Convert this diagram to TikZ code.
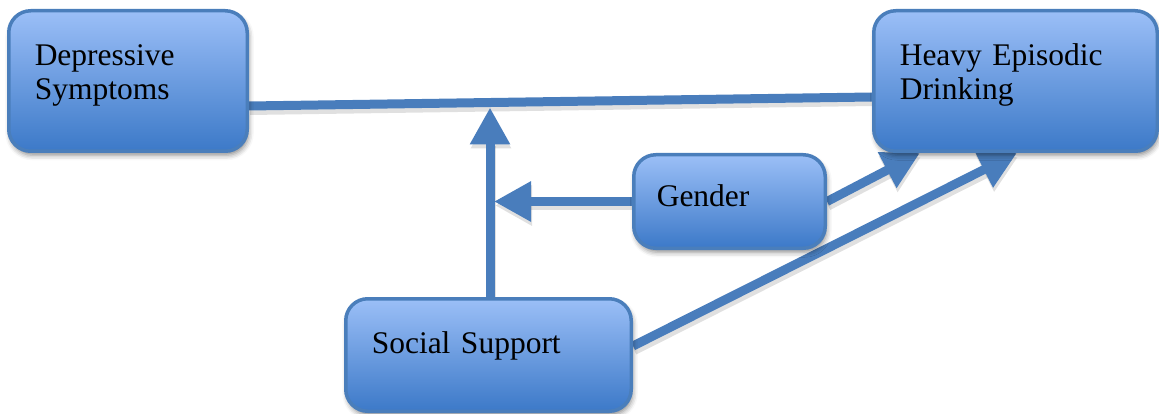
\documentclass[tikz,border=0pt]{standalone}
\usepackage{fontspec}
\setmainfont{Liberation Serif}
\usetikzlibrary{arrows.meta,calc,shadows.blur,backgrounds}
\definecolor{boxtop}{RGB}{155,191,247}
\definecolor{boxbot}{RGB}{60,121,200}
\definecolor{bordercol}{RGB}{74,126,187}
\definecolor{linecol}{RGB}{73,125,188}
\tikzset{
  box/.style={draw=bordercol, line width=3.5pt, rounded corners=22pt,
    top color=boxtop, bottom color=boxbot, align=left, inner ysep=0pt,
    font=\fontsize{31.5}{34}\selectfont, text=black,
    blur shadow={shadow xshift=1.5pt, shadow yshift=-4pt, shadow blur radius=5pt, shadow opacity=45}},
  conn/.style={draw=linecol, line width=9pt,
    preaction={draw=black, opacity=0.12, line width=10pt, transform canvas={xshift=1pt,yshift=-4pt}}},
  head/.style={-{Triangle[length=37pt,width=38pt]}}
}
\begin{document}
\begin{tikzpicture}[x=1pt,y=-1pt]
\useasboundingbox (0,0) rectangle (1159,414);
\node[box, minimum width=238.5pt, minimum height=140.5pt, inner xsep=26pt,
      text width=186.5pt, text depth=51.5pt] (dep) at (128,81) {Depressive\\Symptoms};
\node[box, minimum width=283.5pt, minimum height=140.5pt, inner xsep=26pt,
      text width=231.5pt, text depth=53.5pt] (heavy) at (1015.5,81) {Heavy Episodic\\Drinking};
\node[box, minimum width=191.5pt, minimum height=93.5pt, inner xsep=23pt,
      text width=145.5pt, text depth=12.5pt] (gen) at (729.5,201.5) {Gender};
\node[box, minimum width=285.5pt, minimum height=112.5pt, inner xsep=26pt,
      text width=233.5pt, text depth=25.5pt] (soc) at (488.5,355) {Social Support};
\coordinate (stip) at (490,107.5);
\coordinate (gtip) at (494,201.5);
\begin{pgfonlayer}{background}
\draw[conn] ([yshift=-25pt]dep.east) -- ([yshift=-16pt]heavy.west);
\draw[conn,head] (soc.north -| stip) -- (stip);
\draw[conn,head] (gen.west) -- (gtip);
\draw[conn,head] (gen.east) -- ($(heavy.south west)!0.167!(heavy.south east)$);
\draw[conn,head] ([yshift=9pt]soc.east) -- ($(heavy.south west)!0.505!(heavy.south east)$);
\end{pgfonlayer}
\end{tikzpicture}
\end{document}
